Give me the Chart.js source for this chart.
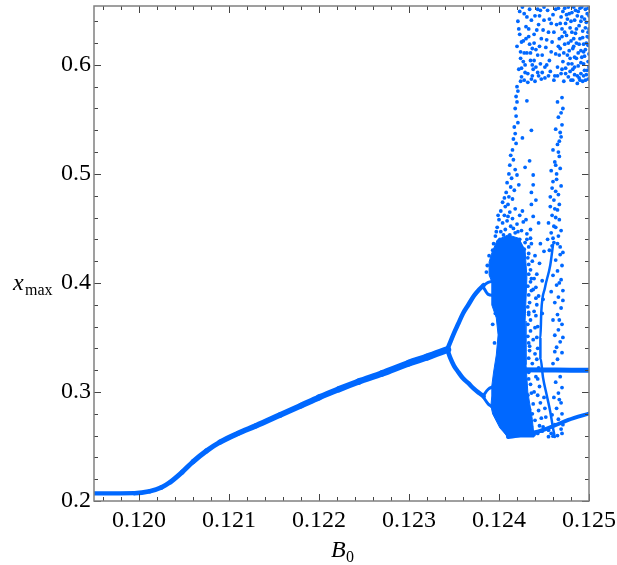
<!DOCTYPE html>
<html>
<head>
<meta charset="utf-8">
<script src="https://cdn.jsdelivr.net/npm/chart.js@4.4.0/dist/chart.umd.min.js"></script>
<style>
  html, body { margin: 0; padding: 0; background: #fff; }
</style>
</head>
<body>
<canvas id="myChart" width="617" height="565"></canvas>
<script>
// tick values
const xTickValues = [0.120, 0.121, 0.122, 0.123, 0.124, 0.125]
const yTickValues = [0.2, 0.3, 0.4, 0.5, 0.6]

// single branch (B0, xmax)
const stem = [[0.11950,0.2070],[0.11995,0.2072],[0.12012,0.2090],[0.12025,0.2125],[0.12035,0.2175],
  [0.12048,0.2265],[0.12060,0.2360],[0.12075,0.2460],[0.12090,0.2540],[0.12110,0.2620],[0.12130,0.2690],
  [0.12157,0.2790],[0.12180,0.2875],[0.12200,0.2950],[0.12222,0.3025],[0.12244,0.3095],[0.12270,0.3170],
  [0.12300,0.3265],[0.12320,0.3320],[0.12343,0.3390]]

// period 2
const branchUp = [[0.12343,0.340],[0.12346,0.346],[0.12350,0.354],[0.12355,0.363],[0.12360,0.372],
  [0.12366,0.380],[0.12372,0.388],[0.12378,0.394],[0.12383,0.398]]
const branchLow = [[0.12343,0.338],[0.12346,0.331],[0.12350,0.324],[0.12355,0.318],[0.12360,0.3125],
  [0.12366,0.308],[0.12372,0.303],[0.12378,0.299],[0.12383,0.296]]

// period 4 bubbles
const bubbleUpA = [[0.12382,0.397],[0.12388,0.4005],[0.12394,0.4015]]
const bubbleUpB = [[0.12382,0.397],[0.12388,0.3895],[0.12394,0.3885]]
const bubbleLowA = [[0.12382,0.296],[0.12388,0.3025],[0.12394,0.305]]
const bubbleLowB = [[0.12382,0.296],[0.12388,0.289],[0.12393,0.2855],[0.12400,0.273],[0.12410,0.2595]]

// dense chaotic core outline
const coreCloud = [[0.12389,0.4193],[0.12392,0.4275],[0.12398,0.4394],[0.12410,0.4440],[0.12422,0.4410],
  [0.12429,0.4300],[0.12431,0.4050],[0.12429,0.3650],[0.12430,0.3250],[0.12432,0.3000],[0.12437,0.2750],
  [0.12439,0.2587],[0.12410,0.2587],[0.12401,0.2670],[0.12393,0.2798],[0.12391,0.2872],[0.12392,0.2963],
  [0.12392,0.3055],[0.12394,0.3183],[0.12397,0.3339],[0.12399,0.3523],[0.12397,0.3679],[0.12392,0.3798],
  [0.12392,0.3881],[0.12392,0.4009],[0.12389,0.4073],[0.12389,0.4193]]

// periodic window line and lower line
const windowLine = [[0.12412,0.3205],[0.12450,0.3202],[0.12480,0.3200],[0.12501,0.3198]]
const lowerLine = [[0.12410,0.2587],[0.12443,0.2636],[0.12459,0.2682],[0.12477,0.2743],[0.12501,0.2805]]

// crisis curve (lower part)
const crisisCurve = [[0.12460,0.4349],[0.12457,0.4165],[0.12451,0.3954],[0.12447,0.3737],[0.12446,0.3495],
  [0.12446,0.3312],[0.12449,0.3128],[0.12453,0.2972],[0.12457,0.2817],[0.12460,0.2670],[0.12462,0.2587]]

// scattered points
const topCloud = [[0.12421,0.640],[0.12423,0.628],[0.12420,0.617],[0.12424,0.606],[0.12422,0.596],[0.12425,0.589],
  [0.12428,0.647],[0.12430,0.635],[0.12427,0.622],[0.12431,0.611],[0.12429,0.600],[0.12432,0.592],[0.12434,0.651],
  [0.12436,0.641],[0.12433,0.626],[0.12437,0.615],[0.12435,0.604],[0.12438,0.596],[0.12436,0.587],[0.12440,0.645],
  [0.12442,0.632],[0.12439,0.620],[0.12443,0.609],[0.12441,0.598],[0.12444,0.590],[0.12426,0.653],[0.12432,0.584],
  [0.12440,0.585],[0.12446,0.650],[0.12447,0.624],[0.12446,0.601],[0.12448,0.593],
  [0.12450,0.641],[0.12452,0.616],[0.12451,0.588],[0.12454,0.650],[0.12455,0.630],[0.12456,0.604],[0.12457,0.594],
  [0.12459,0.621],[0.12460,0.646],[0.12461,0.586],[0.12463,0.610],[0.12464,0.637],[0.12465,0.598],[0.12466,0.652],
  [0.12467,0.624],[0.12453,0.600],[0.12458,0.638],[0.12462,0.590],
  [0.12469,0.644],[0.12470,0.633],[0.12468,0.615],[0.12471,0.603],[0.12469,0.592],[0.12472,0.585],[0.12473,0.652],
  [0.12474,0.638],[0.12475,0.627],[0.12473,0.619],[0.12476,0.609],[0.12474,0.597],[0.12477,0.589],[0.12478,0.647],
  [0.12479,0.634],[0.12480,0.622],[0.12478,0.613],[0.12481,0.601],[0.12479,0.594],[0.12482,0.586],[0.12483,0.653],
  [0.12484,0.641],[0.12485,0.629],[0.12483,0.617],[0.12486,0.606],[0.12484,0.598],[0.12487,0.590],[0.12488,0.649],
  [0.12489,0.636],[0.12490,0.624],[0.12488,0.611],[0.12491,0.602],[0.12489,0.588],[0.12492,0.644],[0.12493,0.631],
  [0.12494,0.619],[0.12492,0.607],[0.12495,0.595],[0.12493,0.585],[0.12496,0.651],[0.12497,0.639],[0.12498,0.626],
  [0.12496,0.614],[0.12499,0.603],[0.12497,0.591],[0.12500,0.645],[0.12500,0.633],[0.12499,0.618],[0.12500,0.598],
  [0.12499,0.587],[0.12471,0.649],[0.12476,0.642],[0.12481,0.630],[0.12486,0.620],[0.12491,0.613],[0.12495,0.608],
  [0.12482,0.596],[0.12487,0.583],[0.12494,0.590],[0.12477,0.601],[0.12490,0.652],[0.12498,0.647],
  [0.12423,0.649],[0.12428,0.611],[0.12434,0.619],[0.12439,0.604],[0.12444,0.637],[0.12425,0.597],[0.12437,0.590],
  [0.12422,0.633],[0.12425,0.621],[0.12424,0.612],[0.12427,0.603],[0.12429,0.593],[0.12431,0.644],[0.12433,0.633],
  [0.12435,0.611],[0.12437,0.600],[0.12439,0.628],[0.12441,0.614],[0.12443,0.593],[0.12445,0.645],[0.12445,0.617],
  [0.12448,0.609],[0.12449,0.632],[0.12451,0.598],[0.12453,0.623],[0.12456,0.642],[0.12458,0.612],[0.12461,0.630],
  [0.12463,0.651],[0.12465,0.590],[0.12467,0.609],[0.12468,0.638],[0.12470,0.626],[0.12472,0.611],[0.12474,0.592],
  [0.12475,0.646],[0.12477,0.620],[0.12479,0.606],[0.12480,0.640],[0.12482,0.615],[0.12484,0.591],[0.12485,0.650],
  [0.12486,0.633],[0.12488,0.599],[0.12489,0.619],[0.12491,0.640],[0.12491,0.592],[0.12493,0.625],[0.12494,0.601],
  [0.12496,0.634],[0.12497,0.620],[0.12498,0.595],[0.12500,0.610],[0.12500,0.625],[0.12499,0.652],[0.12495,0.642],
  [0.12490,0.586],[0.12496,0.586],[0.12480,0.586],[0.12473,0.630],[0.12483,0.624],[0.12487,0.645],[0.12492,0.653],
  [0.12477,0.653],[0.12470,0.596],[0.12466,0.617],[0.12455,0.590],[0.12450,0.653],[0.12447,0.587],[0.12443,0.651],
  [0.12430,0.624],[0.12424,0.585],[0.12428,0.586],[0.12484,0.607],[0.12481,0.648],[0.12494,0.612],[0.12499,0.630]]

const wedgeDots = [[0.12420,0.580],[0.12421,0.576],[0.12419,0.571],[0.12420,0.566],[0.12418,0.560],[0.12419,0.553],
  [0.12421,0.547],[0.12417,0.543],[0.12418,0.537],[0.12416,0.532],[0.12419,0.528],
  [0.12415,0.522],[0.12413,0.517],[0.12416,0.513],[0.12412,0.508],[0.12418,0.504],[0.12411,0.500],[0.12414,0.496],
  [0.12420,0.499],[0.12409,0.492],[0.12413,0.488],[0.12417,0.485],[0.12408,0.483],[0.12411,0.479],[0.12422,0.490],
  [0.12415,0.477],
  [0.12404,0.474],[0.12407,0.470],[0.12410,0.472],[0.12402,0.466],[0.12406,0.462],[0.12412,0.465],[0.12418,0.468],
  [0.12400,0.458],[0.12404,0.455],[0.12409,0.457],[0.12415,0.459],[0.12423,0.462],[0.12398,0.451],[0.12402,0.447],
  [0.12407,0.449],[0.12413,0.452],[0.12420,0.454],[0.12427,0.456],[0.12396,0.443],[0.12401,0.440],[0.12412,0.444],
  [0.12418,0.446],[0.12425,0.448],[0.12431,0.445],[0.12394,0.436],[0.12423,0.440],[0.12429,0.437],[0.12433,0.433],
  [0.12393,0.430],[0.12428,0.431],[0.12389,0.425],[0.12387,0.416],[0.12386,0.410],
  [0.12406,0.478],[0.12399,0.462],[0.12410,0.461],[0.12405,0.444],[0.12416,0.450],[0.12421,0.447],[0.12397,0.447]]

const middleDots = [[0.12431,0.567],[0.12436,0.540],[0.12426,0.533],[0.12434,0.512],[0.12429,0.506],[0.12438,0.499],
  [0.12438,0.490],[0.12436,0.483],[0.12436,0.472],[0.12426,0.466],[0.12438,0.461],[0.12430,0.458],[0.12435,0.449],
  [0.12435,0.441],[0.12441,0.476],[0.12444,0.455],[0.12446,0.436]]

const streakDots = [[0.12465,0.566],[0.12471,0.560],[0.12466,0.552],[0.12470,0.545],[0.12463,0.541],[0.12469,0.534],
  [0.12465,0.527],[0.12460,0.522],[0.12467,0.516],[0.12462,0.511],[0.12468,0.505],[0.12458,0.503],[0.12464,0.495],
  [0.12469,0.489],[0.12459,0.487],[0.12466,0.481],[0.12461,0.476],[0.12457,0.470],[0.12465,0.467],[0.12459,0.462],
  [0.12467,0.458],[0.12455,0.455],[0.12463,0.451],[0.12458,0.446],[0.12466,0.443],[0.12454,0.440],[0.12461,0.437],
  [0.12468,0.433],[0.12456,0.430],
  [0.12470,0.570],[0.12469,0.556],[0.12468,0.538],[0.12466,0.520],[0.12464,0.500],[0.12463,0.484],[0.12462,0.468],
  [0.12461,0.452],[0.12460,0.441],[0.12467,0.530],[0.12463,0.508],[0.12460,0.493],[0.12467,0.472],[0.12457,0.479],
  [0.12463,0.460],[0.12469,0.448],[0.12465,0.436],[0.12471,0.428],[0.12459,0.434]]

const columnDots = [[0.12468,0.426],[0.12463,0.421],[0.12470,0.416],[0.12465,0.411],[0.12460,0.407],[0.12469,0.403],
  [0.12464,0.398],[0.12471,0.393],[0.12458,0.392],[0.12466,0.387],[0.12462,0.382],[0.12469,0.377],[0.12465,0.371],
  [0.12460,0.366],[0.12470,0.362],[0.12466,0.357],[0.12462,0.352],[0.12468,0.346],[0.12464,0.341],[0.12470,0.336],
  [0.12465,0.330],[0.12460,0.326],[0.12468,0.314],[0.12463,0.309],[0.12470,0.304],[0.12466,0.299],[0.12461,0.295],
  [0.12469,0.290],[0.12464,0.285],[0.12470,0.280],[0.12459,0.279],[0.12466,0.275],[0.12462,0.270],[0.12469,0.266],
  [0.12455,0.265],[0.12458,0.262],[0.12465,0.260],[0.12470,0.262],[0.12455,0.259],[0.12460,0.2595],
  [0.12467,0.400],[0.12471,0.384],[0.12467,0.366],[0.12471,0.350],[0.12462,0.337],[0.12467,0.293],[0.12471,0.270]]

const cloudDots = [[0.12433,0.264],[0.12439,0.261],[0.12436,0.268],[0.12440,0.274],[0.12434,0.284],[0.12438,0.289],
  [0.12432,0.297],[0.12439,0.300],[0.12435,0.307],[0.12433,0.312],[0.12441,0.314],[0.12433,0.318],[0.12437,0.326],
  [0.12433,0.331],[0.12440,0.335],[0.12434,0.342],[0.12438,0.348],[0.12432,0.351],[0.12435,0.356],[0.12440,0.359],
  [0.12432,0.362],[0.12435,0.366],[0.12433,0.371],[0.12439,0.374],[0.12432,0.378],[0.12434,0.382],[0.12441,0.386],
  [0.12433,0.389],[0.12436,0.393],[0.12432,0.397],[0.12435,0.401],[0.12439,0.404],[0.12433,0.408],[0.12435,0.412],
  [0.12433,0.417],[0.12437,0.420],[0.12432,0.423],[0.12433,0.427],[0.12436,0.436],[0.12431,0.440],[0.12437,0.280],
  [0.12436,0.299],[0.12433,0.345],[0.12433,0.373],[0.12436,0.404],[0.12434,0.338],[0.12436,0.320],[0.12438,0.394]]

const edgeDots = [[0.12440,0.425],[0.12445,0.418],[0.12442,0.408],[0.12448,0.402],[0.12441,0.396],[0.12444,0.388],
  [0.12442,0.380],[0.12441,0.370],[0.12443,0.360],[0.12442,0.350],[0.12443,0.340],[0.12442,0.330],[0.12444,0.322],
  [0.12443,0.312],[0.12445,0.305],[0.12443,0.297],[0.12446,0.290],[0.12444,0.283],[0.12447,0.276],[0.12445,0.269],
  [0.12448,0.264],[0.12443,0.262],[0.12450,0.429],[0.12449,0.385],[0.12448,0.372],[0.12450,0.295],[0.12451,0.285],
  [0.12452,0.277],[0.12449,0.268],[0.12393,0.362],[0.12395,0.345],[0.12396,0.372]]

const blue = 'rgb(0,104,255)'
const pts = (arr) => arr.map(p => ({ x: p[0], y: p[1] }))

function lineSet(arr, w) {
  return {
    type: 'line', data: pts(arr), borderColor: blue, borderWidth: w,
    pointRadius: 0, fill: false, cubicInterpolationMode: 'monotone', borderCapStyle: 'round'
  }
}
function dotSet(arr) {
  return { type: 'scatter', data: pts(arr), backgroundColor: blue, borderWidth: 0, pointRadius: 1.9 }
}

// the stem gets a little thicker towards the bifurcation, like the original
const stemSet = lineSet(stem, 4.5)
stemSet.segment = { borderWidth: c => 4.2 + 3 * (c.p0.parsed.x - 0.1195) / 0.0039 }

const datasets = [
  {
    type: 'line', data: pts(coreCloud), borderColor: blue, backgroundColor: blue,
    borderWidth: 1, pointRadius: 0, fill: 'shape', tension: 0
  },
  stemSet,
  lineSet(branchUp, 4.5),
  lineSet(branchLow, 4.5),
  lineSet(bubbleUpA, 3),
  lineSet(bubbleUpB, 3),
  lineSet(bubbleLowA, 3),
  lineSet(bubbleLowB, 3),
  lineSet(windowLine, 5),
  lineSet(lowerLine, 4),
  lineSet(crisisCurve, 2.5),
  dotSet(topCloud),
  dotSet(wedgeDots),
  dotSet(middleDots),
  dotSet(streakDots),
  dotSet(columnDots),
  dotSet(cloudDots),
  dotSet(edgeDots)
]

// frame, inward ticks and axis titles like the original
const framePlugin = {
  id: 'framePlugin',
  afterDraw(chart) {
    const { ctx, chartArea: a, scales } = chart
    const xs = scales.x, ys = scales.y
    ctx.save()
    ctx.strokeStyle = '#444'
    ctx.lineWidth = 1
    for (let k = 598; k <= 625; k++) {
      const px = Math.round(xs.getPixelForValue(k * 0.0002)) + 0.5
      const len = k % 5 === 0 ? 7 : 4
      ctx.beginPath()
      ctx.moveTo(px, a.bottom); ctx.lineTo(px, a.bottom - len)
      ctx.moveTo(px, a.top); ctx.lineTo(px, a.top + len)
      ctx.stroke()
    }
    for (let k = 10; k <= 32; k++) {
      const py = Math.round(ys.getPixelForValue(k * 0.02)) + 0.5
      const len = k % 5 === 0 ? 7 : 4
      ctx.beginPath()
      ctx.moveTo(a.left, py); ctx.lineTo(a.left + len, py)
      ctx.moveTo(a.right, py); ctx.lineTo(a.right - len, py)
      ctx.stroke()
    }
    ctx.strokeStyle = '#808080'
    ctx.lineWidth = 1.5
    ctx.strokeRect(a.left, a.top, a.right - a.left, a.bottom - a.top)

    ctx.fillStyle = '#000'
    ctx.textBaseline = 'alphabetic'
    // B0
    ctx.font = 'italic 24px "Liberation Serif"'
    ctx.textAlign = 'left'
    ctx.fillText('B', 331, 557)
    ctx.font = '16px "Liberation Serif"'
    ctx.fillText('0', 346, 562)
    // x max
    ctx.font = 'italic 24px "Liberation Serif"'
    ctx.fillText('x', 13, 290)
    ctx.font = '16px "Liberation Serif"'
    ctx.fillText('max', 25, 295)
    ctx.restore()
  }
}

const ctx = document.getElementById('myChart').getContext('2d')
const myChart = new Chart(ctx, {
  type: 'scatter',
  data: { datasets: datasets },
  options: {
    responsive: false,
    animation: false,
    layout: { padding: { left: 0, right: 28, top: 6, bottom: 0 } },
    plugins: { legend: { display: false }, tooltip: { enabled: false } },
    scales: {
      x: {
        type: 'linear', min: 0.1195, max: 0.125,
        afterBuildTicks: s => { s.ticks = xTickValues.map(v => ({ value: v })) },
        afterFit: s => { s.height = 64; s.paddingLeft = 0; s.paddingRight = 0 },
        grid: { display: false, drawTicks: false },
        border: { display: false },
        ticks: {
          autoSkip: false, maxRotation: 0, padding: 5, color: '#000',
          font: { family: 'Liberation Serif', size: 24 },
          callback: v => v.toFixed(3)
        }
      },
      y: {
        type: 'linear', min: 0.2, max: 0.654,
        afterBuildTicks: s => { s.ticks = yTickValues.map(v => ({ value: v })) },
        afterFit: s => { s.width = 94; s.paddingTop = 0; s.paddingBottom = 0 },
        grid: { display: false, drawTicks: false },
        border: { display: false },
        ticks: {
          padding: 3, color: '#000',
          font: { family: 'Liberation Serif', size: 24 },
          callback: v => v.toFixed(1)
        }
      }
    }
  },
  plugins: [framePlugin]
})
</script>
</body>
</html>
